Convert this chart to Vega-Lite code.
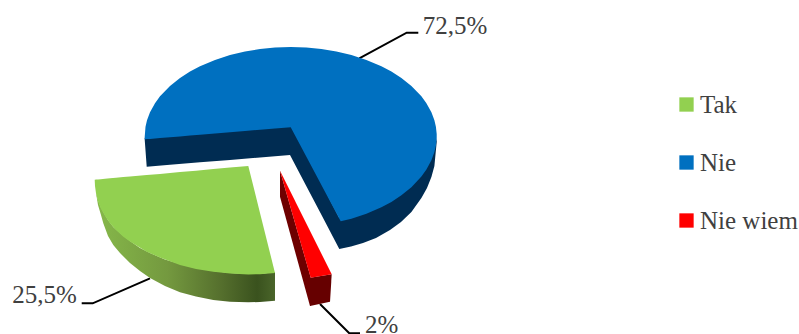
{"$schema":"https://vega.github.io/schema/vega-lite/v6.json","width":799,"height":334,"padding":0,"autosize":{"type":"none"},"background":"white","view":{"stroke":null},
"config":{"axis":{"disable":true},"font":"Liberation Serif"},
"datasets":{
"leaders":[{"k":"a","x":359.3,"y":58.3},{"k":"a","x":406.7,"y":32.7},{"k":"a","x":418.3,"y":32.7},{"k":"b","x":150,"y":278.3},{"k":"b","x":92.7,"y":303.3},{"k":"b","x":81.7,"y":303.3},{"k":"c","x":320,"y":304},{"k":"c","x":349.3,"y":333.3},{"k":"c","x":360,"y":333.3}],
"labels":[{"label":"72,5%","x":422.7,"y":34},{"label":"25,5%","x":12.3,"y":303.3},{"label":"2%","x":365,"y":332.7}],
"navy":[{"x":144.7,"y":138,"y2":139.5},{"x":146.7,"y":136,"y2":166.7},{"x":170,"y":135,"y2":164.8},{"x":200,"y":132,"y2":162.3},{"x":230,"y":129,"y2":159.9},{"x":260,"y":127,"y2":157.4},{"x":290,"y":124.5,"y2":155},{"x":306.4,"y":154,"y2":186.2},{"x":321.4,"y":183,"y2":214.8},{"x":339.3,"y":218,"y2":249},{"x":351,"y":216,"y2":246.5},{"x":363,"y":213,"y2":243},{"x":376,"y":208,"y2":238},{"x":390,"y":200,"y2":230},{"x":401,"y":193,"y2":222},{"x":411.4,"y":184,"y2":212},{"x":421.4,"y":174,"y2":198},{"x":427,"y":166,"y2":188},{"x":431.4,"y":157,"y2":177},{"x":434.4,"y":149,"y2":166},{"x":436.7,"y":138,"y2":142}],
"blue":[{"slice":"Nie","x":144.7,"y":137,"y2":139.3},{"slice":"Nie","x":145.5,"y":126.7,"y2":139.2},{"slice":"Nie","x":147,"y":120.2,"y2":139.1},{"slice":"Nie","x":150,"y":112.2,"y2":138.9},{"slice":"Nie","x":155,"y":103.2,"y2":138.5},{"slice":"Nie","x":160,"y":96.3,"y2":138},{"slice":"Nie","x":170,"y":86,"y2":137.2},{"slice":"Nie","x":180,"y":78,"y2":136.4},{"slice":"Nie","x":190,"y":71.6,"y2":135.6},{"slice":"Nie","x":200,"y":66.2,"y2":134.8},{"slice":"Nie","x":215,"y":59.9,"y2":133.5},{"slice":"Nie","x":230,"y":55.1,"y2":132.3},{"slice":"Nie","x":245,"y":51.5,"y2":131},{"slice":"Nie","x":260,"y":49,"y2":129.8},{"slice":"Nie","x":275,"y":47.5,"y2":128.6},{"slice":"Nie","x":290.7,"y":47,"y2":127.3},{"slice":"Nie","x":306.4,"y":47.5,"y2":156.8},{"slice":"Nie","x":321.4,"y":49,"y2":185},{"slice":"Nie","x":336.4,"y":51.5,"y2":213.2},{"slice":"Nie","x":340.7,"y":52.5,"y2":221.3},{"slice":"Nie","x":351.4,"y":55.1,"y2":218.8},{"slice":"Nie","x":366.4,"y":59.9,"y2":213.8},{"slice":"Nie","x":381.4,"y":66.2,"y2":207.3},{"slice":"Nie","x":391.4,"y":71.6,"y2":201.9},{"slice":"Nie","x":401.4,"y":78,"y2":195.3},{"slice":"Nie","x":411.4,"y":86,"y2":187.2},{"slice":"Nie","x":421.4,"y":96.3,"y2":176.6},{"slice":"Nie","x":426.4,"y":103.2,"y2":169.6},{"slice":"Nie","x":431.4,"y":112.2,"y2":160.3},{"slice":"Nie","x":434.4,"y":120.2,"y2":152.1},{"slice":"Nie","x":435.9,"y":126.7,"y2":145.6},{"slice":"Nie","x":436.7,"y":134,"y2":138}],
"greenWall":[{"x":96,"y":192,"y2":193},{"x":98,"y":200,"y2":205},{"x":100.7,"y":207,"y2":214},{"x":103.3,"y":212,"y2":223.3},{"x":108,"y":220,"y2":236},{"x":113.3,"y":227,"y2":245},{"x":120,"y":233,"y2":253},{"x":130,"y":241,"y2":263},{"x":140,"y":248,"y2":271},{"x":150,"y":253,"y2":278},{"x":165,"y":259.5,"y2":286},{"x":180,"y":264,"y2":292.3},{"x":196,"y":268,"y2":296.5},{"x":213.3,"y":271,"y2":300},{"x":230,"y":273,"y2":301.7},{"x":248.3,"y":274,"y2":302.3},{"x":260,"y":274,"y2":302},{"x":275,"y":272,"y2":300.7}],
"green":[{"slice":"Tak","x":94.7,"y":179.7,"y2":179.7},{"slice":"Tak","x":95,"y":179.7,"y2":186},{"slice":"Tak","x":96,"y":179.6,"y2":193.3},{"slice":"Tak","x":98,"y":179.4,"y2":201},{"slice":"Tak","x":100.7,"y":179.2,"y2":208.3},{"slice":"Tak","x":105,"y":178.8,"y2":216},{"slice":"Tak","x":110,"y":178.3,"y2":223.3},{"slice":"Tak","x":116,"y":177.8,"y2":230},{"slice":"Tak","x":123.3,"y":177.1,"y2":236.7},{"slice":"Tak","x":130,"y":176.6,"y2":241.5},{"slice":"Tak","x":146.7,"y":175,"y2":251.7},{"slice":"Tak","x":160,"y":173.9,"y2":257.5},{"slice":"Tak","x":180,"y":172.1,"y2":265},{"slice":"Tak","x":196,"y":170.7,"y2":269},{"slice":"Tak","x":213.3,"y":169.1,"y2":271.7},{"slice":"Tak","x":230,"y":167.6,"y2":273.5},{"slice":"Tak","x":248.3,"y":166,"y2":274.4},{"slice":"Tak","x":260,"y":212.9,"y2":274.3},{"slice":"Tak","x":275,"y":273,"y2":273}],
"redLeft":[{"x":280,"y":170.7,"y2":196.7},{"x":310,"y":274.9,"y2":306},{"x":310.7,"y":277.7,"y2":306}],
"redFront":[{"x":310,"y":277.8,"y2":306},{"x":330,"y":274.5,"y2":301.7},{"x":331.7,"y":274.3,"y2":274.3}],
"red":[{"slice":"Nie wiem","x":280,"y":170.7,"y2":170.7},{"slice":"Nie wiem","x":310.7,"y":232.2,"y2":277.7},{"slice":"Nie wiem","x":331.7,"y":274.3,"y2":274.3}]
},
"layer":[
{"data":{"name":"leaders"},"mark":{"type":"line","color":"black","strokeWidth":2},"encoding":{"x":{"field":"x","type":"quantitative","scale":{"domain":[0,799],"nice":false,"zero":false},"axis":null},"y":{"field":"y","type":"quantitative","scale":{"domain":[334,0],"nice":false,"zero":false},"axis":null},"detail":{"field":"k"},"order":{"value":0}}},
{"data":{"name":"navy"},"mark":{"type":"area","color":"#002C52"},"encoding":{"x":{"field":"x","type":"quantitative"},"y":{"field":"y","type":"quantitative"},"y2":{"field":"y2"}}},
{"data":{"name":"blue"},"mark":{"type":"area"},"encoding":{"x":{"field":"x","type":"quantitative"},"y":{"field":"y","type":"quantitative"},"y2":{"field":"y2"},"color":{"field":"slice","type":"nominal","scale":{"domain":["Tak","Nie","Nie wiem"],"range":["#92D050","#0070C0","#FF0000"]},"legend":{"orient":"none","legendX":674,"legendY":92,"title":null,"symbolType":"square","symbolSize":205,"symbolStrokeWidth":0,"symbolOpacity":1,"labelFont":"Liberation Serif","labelFontSize":25,"labelColor":"#404040","labelOffset":1,"labelLimit":200,"rowPadding":32,"padding":0}}}},
{"data":{"name":"greenWall"},"mark":{"type":"area","color":{"gradient":"linear","x1":0,"x2":1,"y1":0,"y2":0,"stops":[{"offset":0,"color":"#86B84A"},{"offset":0.4,"color":"#74993F"},{"offset":0.7,"color":"#556F2D"},{"offset":0.9,"color":"#3A521E"},{"offset":1,"color":"#4A652A"}]}},"encoding":{"x":{"field":"x","type":"quantitative"},"y":{"field":"y","type":"quantitative"},"y2":{"field":"y2"}}},
{"data":{"name":"green"},"mark":{"type":"area"},"encoding":{"x":{"field":"x","type":"quantitative"},"y":{"field":"y","type":"quantitative"},"y2":{"field":"y2"},"color":{"field":"slice","type":"nominal"}}},
{"data":{"name":"redLeft"},"mark":{"type":"area","color":"#6E0000"},"encoding":{"x":{"field":"x","type":"quantitative"},"y":{"field":"y","type":"quantitative"},"y2":{"field":"y2"}}},
{"data":{"name":"redFront"},"mark":{"type":"area","color":"#660000"},"encoding":{"x":{"field":"x","type":"quantitative"},"y":{"field":"y","type":"quantitative"},"y2":{"field":"y2"}}},
{"data":{"name":"red"},"mark":{"type":"area"},"encoding":{"x":{"field":"x","type":"quantitative"},"y":{"field":"y","type":"quantitative"},"y2":{"field":"y2"},"color":{"field":"slice","type":"nominal"}}},
{"data":{"name":"labels"},"mark":{"type":"text","align":"left","baseline":"alphabetic","font":"Liberation Serif","fontSize":25,"color":"#404040"},"encoding":{"x":{"field":"x","type":"quantitative"},"y":{"field":"y","type":"quantitative"},"text":{"field":"label"}}}
]}
